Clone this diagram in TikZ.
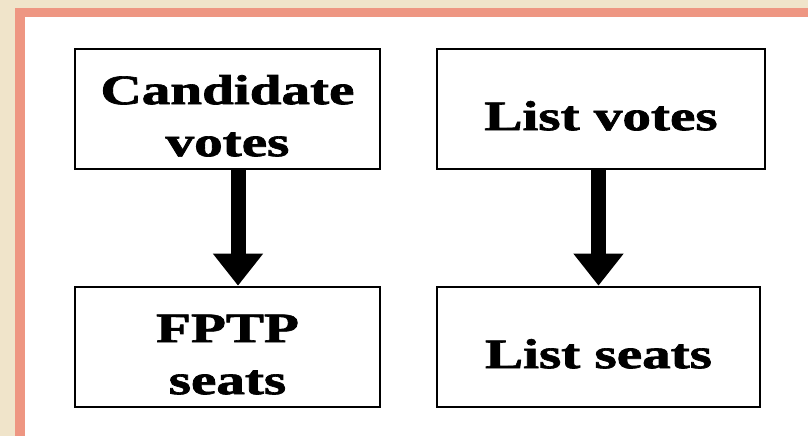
\documentclass[tikz,border=0pt]{standalone}
\usepackage{fontspec}
\setmainfont{Liberation Serif}[BoldFeatures={FakeBold=1.5}]
\usepackage{graphicx}
\usetikzlibrary{arrows.meta,positioning}
\definecolor{paper}{RGB}{240,228,202}
\definecolor{salmon}{RGB}{238,150,130}
\tikzset
{
    votebox/.style = {rectangle, draw=black, line width=2.6pt, inner sep=0pt, minimum height=120pt, text height=40pt, text depth=6pt, font=\fontsize{42}{52}\selectfont\bfseries},
    bigarrow/.style = {line width=15pt, -{Triangle[width=48pt,length=32pt]}}
}
\newcommand{\wide}[1]{\scalebox{1.36}[1]{\begin{tabular}{@{}c@{}}#1\end{tabular}}}

\begin{document}
\begin{tikzpicture}[x=1pt, y=1pt]
	\newcommand\XA{227.5}
\newcommand\YA{327}
\newcommand\XB{601}
\newcommand\YB{89}
\useasboundingbox (0,0) rectangle (808,436);

%% frame
\fill[paper] (0,0) rectangle (808,436);
\fill[salmon] (15,0) rectangle (808,428);
\fill[white] (25,0) rectangle (808,419);

\node (CV)		[votebox, minimum width=305pt] 		at (\XA,\YA)       	{\wide{Candidate\\votes}};
\node (LV)		[votebox, minimum width=328pt] 		at (\XB,\YA)       	{\wide{List votes}};
\node (FS)		[votebox, minimum width=305pt] 		at (\XA,\YB)       	{\wide{FPTP\\seats}};
\node (LS)		[votebox, minimum width=323pt] 		at (\XB-2.5,\YB)     	{\wide{List seats}};

\draw[bigarrow] ([xshift=10.5pt]CV.south) -- ([xshift=10.5pt]FS.north);
\draw[bigarrow] (LV.south -| LS.north) -- (LS.north);
	\end{tikzpicture}
\end{document}
